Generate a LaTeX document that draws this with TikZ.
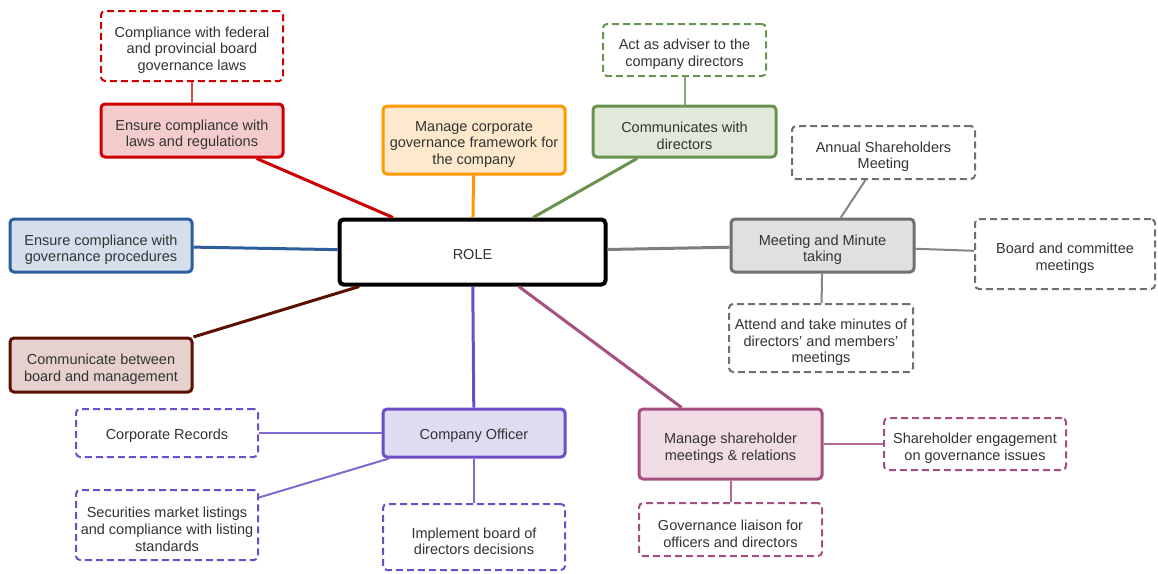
\documentclass[tikz,border=0pt]{standalone}
\usepackage{fontspec}
\setmainfont{Liberation Sans}
\definecolor{cRed}{HTML}{CC0000}\definecolor{fRed}{HTML}{F4CCCC}
\definecolor{cOra}{HTML}{FF9900}\definecolor{fOra}{HTML}{FFE9CC}
\definecolor{cGrn}{HTML}{6A9350}\definecolor{fGrn}{HTML}{E0E9DA}
\definecolor{cGry}{HTML}{707070}\definecolor{fGry}{HTML}{E0E0E0}
\definecolor{cBlu}{HTML}{2E5D9C}\definecolor{fBlu}{HTML}{D5DFEB}
\definecolor{cBrn}{HTML}{5B1000}\definecolor{fBrn}{HTML}{E6D1CF}
\definecolor{cPur}{HTML}{6C4FC8}\definecolor{fPur}{HTML}{DFDBF1}
\definecolor{cPnk}{HTML}{A5507F}\definecolor{fPnk}{HTML}{EFDCE5}
\definecolor{txt}{HTML}{333333}
\newcommand\topstrut{\rule{0pt}{19pt}}
\tikzset{
  base/.style={rounded corners=4pt, inner sep=0pt, align=center, text=txt,
    font=\fontsize{14.5}{16.7}\selectfont},
  sl/.style={execute at begin node={\rule{0pt}{15pt}}},
  mainbox/.style={base, line width=3pt},
  subbox/.style={base, line width=2pt, fill=white, dash pattern=on 7pt off 4pt},
  mainlink/.style={line width=3pt},
  sublink/.style={line width=2pt},
}
\begin{document}
\begin{tikzpicture}[x=1pt,y=-1pt]
\useasboundingbox[fill=white] (0,0) rectangle (1158,573);
% nodes
\node[subbox, draw=cRed, minimum width=182, minimum height=70] (rdash) at (192,46) {\topstrut Compliance with federal\\and provincial board\\governance laws};
\node[mainbox, draw=cRed, fill=fRed, minimum width=182, minimum height=53] (red) at (192,130.5) {\topstrut Ensure compliance with\\laws and regulations};
\node[mainbox, draw=cOra, fill=fOra, minimum width=182, minimum height=68] (ora) at (474,140) {\topstrut Manage corporate\\governance framework for\\the company};
\node[subbox, draw=cGrn, minimum width=163, minimum height=52] (gdash) at (684.5,50) {\topstrut Act as adviser to the\\company directors};
\node[mainbox, draw=cGrn, fill=fGrn, minimum width=183, minimum height=51] (grn) at (684.5,131.5) {\topstrut Communicates with\\directors};
\node[subbox, draw=cGry, minimum width=183, minimum height=53] (annual) at (883.5,152.5) {\topstrut Annual Shareholders\\Meeting};
\node[mainbox, draw=cGry, fill=fGry, minimum width=183, minimum height=53] (meet) at (822.5,245.5) {\topstrut Meeting and Minute\\taking};
\node[subbox, draw=cGry, minimum width=180, minimum height=70] (board) at (1065,254) {\topstrut Board and committee\\meetings};
\node[subbox, draw=cGry, minimum width=184, minimum height=68] (attend) at (821,338) {\topstrut Attend and take minutes of\\directors' and members'\\meetings};
\node[mainbox, draw=cBlu, fill=fBlu, minimum width=182, minimum height=53] (blu) at (101,245.5) {\topstrut Ensure compliance with\\governance procedures};
\node[mainbox, draw=cBrn, fill=fBrn, minimum width=182, minimum height=54] (brn) at (101,365) {\topstrut Communicate between\\board and management};
\node[mainbox, sl, draw=black, fill=white, line width=4pt, minimum width=266, minimum height=65] (role) at (472.5,252) {ROLE};
\node[subbox, sl, draw=cPur, minimum width=182, minimum height=48] (corp) at (167,433) {Corporate Records};
\node[mainbox, sl, draw=cPur, fill=fPur, minimum width=182, minimum height=48] (co) at (474,433) {Company Officer};
\node[subbox, draw=cPur, minimum width=182, minimum height=70] (sec) at (167,525) {\topstrut Securities market listings\\and compliance with listing\\standards};
\node[subbox, draw=cPur, minimum width=182, minimum height=66] (impl) at (474,537) {\topstrut Implement board of\\directors decisions};
\node[mainbox, draw=cPnk, fill=fPnk, minimum width=183, minimum height=70] (msh) at (730.5,444) {\topstrut Manage shareholder\\meetings \& relations};
\node[subbox, draw=cPnk, minimum width=182, minimum height=52] (seng) at (975,444) {\topstrut Shareholder engagement\\on governance issues};
\node[subbox, draw=cPnk, minimum width=183, minimum height=53] (gov) at (730.5,529.5) {\topstrut Governance liaison for\\officers and directors};
% links
\draw[mainlink, cRed] (role) -- (red);
\draw[mainlink, cOra] (role) -- (ora);
\draw[mainlink, cGrn] (role) -- (grn);
\draw[mainlink, cGry!90] (role) -- (meet);
\draw[mainlink, cBlu] (role) -- (blu);
\draw[mainlink, cBrn] (role) -- (brn);
\draw[mainlink, cPur] (role) -- (co);
\draw[mainlink, cPnk] (role) -- (msh);
\draw[sublink, cRed!70] (rdash) -- (red);
\draw[sublink, cGrn!80] (gdash) -- (grn);
\draw[sublink, cGry!85] (annual) -- (meet);
\draw[sublink, cGry!85] (meet) -- (board);
\draw[sublink, cGry!85] (meet) -- (attend);
\draw[sublink, cPur!85] (co) -- (corp);
\draw[sublink, cPur!85] (co) -- (sec);
\draw[sublink, cPur!85] (co) -- (impl);
\draw[sublink, cPnk!85] (msh) -- (seng);
\draw[sublink, cPnk!85] (msh) -- (gov);
\end{tikzpicture}
\end{document}
